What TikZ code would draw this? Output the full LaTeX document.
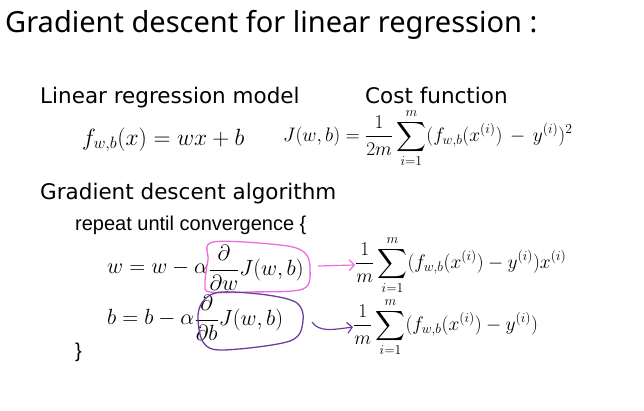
\RequirePackage{fix-cm}
\documentclass[tikz,border=0pt]{standalone}
\usepackage[no-math]{fontspec}
\usepackage{amsmath}
\usepackage{tikz}
\usetikzlibrary{positioning,arrows.meta}

\newfontfamily\titlefont{Noto Sans}
\newfontfamily\headfont{DejaVu Sans}
\newfontfamily\bodyfont{Liberation Sans}

\definecolor{pinkloop}{HTML}{EE6BDD}
\definecolor{purpleloop}{HTML}{6A3E9E}

\tikzset{
	title/.style={anchor=base west, inner sep=0pt, font=\titlefont\fontsize{29}{34}\selectfont},
	heading/.style={anchor=base west, inner sep=0pt, font=\headfont\fontsize{21.5}{25}\selectfont},
	plain/.style={anchor=base west, inner sep=0pt, font=\bodyfont\fontsize{20}{24}\selectfont},
	formula/.style={anchor=west, inner sep=0pt, font=\fontsize{22}{26}\selectfont},
	sumformula/.style={formula, font=\fontsize{19.5}{24}\selectfont},
	loop/.style={line width=1.3pt, line join=round},
	link/.style={line width=1.2pt, -{Straight Barb[length=5pt,width=11pt]}},
}

\begin{document}
\begin{tikzpicture}[x=1pt, y=-1pt]
	\useasboundingbox (0,0) rectangle (644,411);
	
	\node[title] (head) at (5,33) {Gradient descent for linear regression :};
	
	\node[heading] (model) at (40,104) {Linear regression model};
	\node[heading] (cost) at (365,104) {Cost function};
	
	\node[formula, font=\fontsize{23.5}{28}\selectfont] (f) at (82,140) {$f_{w,b}(x) = wx + b$};
	\node[sumformula] (J) at (283,138) {$\displaystyle J(w,b) = \frac{1}{2m}\sum_{i=1}^{m}(f_{w,b}(x^{(i)}) \,-\, y^{(i)})^2$};
	
	\node[heading] (algo) at (40,200) {Gradient descent algorithm};
	\node[plain] (repeat) at (75,231) {repeat until convergence \{};
	
	\node[formula] (wlhs) at (107,268) {$w = w - \alpha$};
	\node[formula, right=0pt of wlhs] (wgrad) {$\dfrac{\partial}{\partial w}J(w,b)$};
	\node[formula] (blhs) at (107,318) {$b = b - \alpha$};
	\node[formula, right=0pt of blhs] (bgrad) {$\dfrac{\partial}{\partial b}J(w,b)$};
	\node[plain] (close) at (75,357) {\}};
	
	\node[sumformula] (wsum) at (355,265) {$\displaystyle\frac{1}{m}\sum_{i=1}^{m}(f_{w,b}(x^{(i)}) - y^{(i)})x^{(i)}$};
	\node[sumformula] (bsum) at (353,327) {$\displaystyle\frac{1}{m}\sum_{i=1}^{m}(f_{w,b}(x^{(i)}) - y^{(i)})$};
	
	% hand drawn loops
	\draw[loop, pinkloop] plot[smooth cycle, tension=0.55] coordinates {(213,242) (280,245) (304,252) (310,268) (303,289) (250,292) (210,292) (205,284) (208,260)};
	\draw[loop, purpleloop] plot[smooth cycle, tension=0.55] coordinates {(222,292) (205,299) (198,315) (203,342) (223,350) (290,341) (303,321) (297,303) (267,295)};
	
	\coordinate (wtail) at (318,266);
	\coordinate (btail) at (312,322);
	\draw[link, pinkloop] (wtail) -- (wsum.west);
	\draw[link, purpleloop] (btail) .. controls (319,332) and (331,330) .. (bsum.west);
\end{tikzpicture}
\end{document}
